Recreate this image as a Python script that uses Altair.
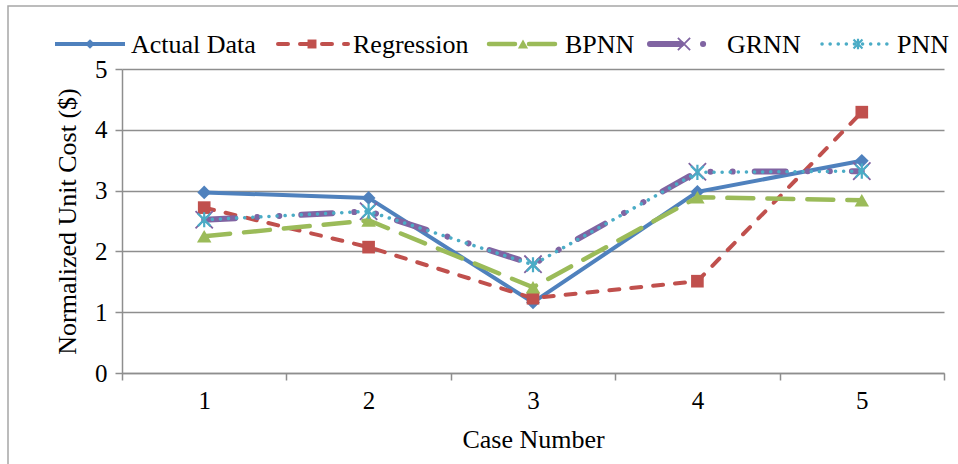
import altair as alt
import pandas as pd

# ---- data ----
cases = [1, 2, 3, 4, 5]
series_names = ["Actual Data", "Regression", "BPNN", "GRNN", "PNN"]
actual = [2.97, 2.88, 1.16, 2.98, 3.49]
regression = [2.72, 2.07, 1.23, 1.51, 4.29]
bpnn = [2.25, 2.51, 1.41, 2.89, 2.84]
grnn = [2.52, 2.66, 1.79, 3.31, 3.32]
pnn = [2.52, 2.66, 1.78, 3.30, 3.32]
y_ticks = [0, 1, 2, 3, 4, 5]

rows = []
for name, vals in zip(series_names, [actual, regression, bpnn, grnn, pnn]):
    for c, v in zip(cases, vals):
        rows.append({"series": name, "case": c, "value": v})
df = pd.DataFrame(rows)

FONT = "Liberation Serif"
GRAY = "#8e8e8e"
W, H = 822, 304

X_PATH = "M-1,-1L1,1M-1,1L1,-1"
AST_PATH = "M-1,-1L1,1M-1,1L1,-1M0,-1.2L0,1.2"

styles = {
    "Actual Data": dict(color="#4F81BD", dash=None, width=4, cap="butt",
                        shape="diamond", size=190, filled=True, sw=0),
    "Regression": dict(color="#C0504D", dash=[10, 12], width=4, cap="round",
                       shape="square", size=160, filled=True, sw=0),
    "BPNN": dict(color="#9BBB59", dash=[26, 14], width=4.5, cap="round",
                 shape="triangle-up", size=210, filled=True, sw=0),
    "GRNN": dict(color="#8064A2", dash=[31, 22, 0.1, 22, 0.1, 22], width=6, cap="round",
                 shape=X_PATH, size=300, filled=False, sw=1.8),
    "PNN": dict(color="#4BACC6", dash=[0.1, 8], width=3.5, cap="round",
                shape=AST_PATH, size=160, filled=False, sw=2.2),
}

# legend positions (pixels relative to plot origin)
legend_pos = {
    "Actual Data": (-67, 3, -32, 9),
    "Regression": (156, 226, 190, 231),
    "BPNN": (367, 437, 401, 443),
    "GRNN": (528, 599, 562, 605),
    "PNN": (700, 771, 736, 775),
}
LEG_Y = -25

x_enc = alt.X(
    "case:O",
    bandPosition=0.5,
    scale=alt.Scale(type="band", paddingInner=0, paddingOuter=0),
    axis=alt.Axis(
        title="Case Number", labelAngle=0, tickBand="extent", tickSize=7,
        labelPadding=8, titlePadding=13, grid=False,
    ),
)
y_enc = alt.Y(
    "value:Q",
    scale=alt.Scale(domain=[0, 5], nice=False),
    axis=alt.Axis(
        title="Normalized Unit Cost ($)", values=y_ticks, tickSize=7,
        labelPadding=8, titlePadding=14, grid=True,
    ),
)

layers = []
for name in series_names:
    s = styles[name]
    base = alt.Chart(df).transform_filter(alt.datum.series == name)
    line_kw = dict(color=s["color"], strokeWidth=s["width"], strokeCap=s["cap"])
    if s["dash"] is not None:
        line_kw["strokeDash"] = s["dash"]
    layers.append(base.mark_line(**line_kw).encode(x=x_enc, y=y_enc))
    pt_kw = dict(shape=s["shape"], size=s["size"], color=s["color"], filled=s["filled"], opacity=1)
    if not s["filled"]:
        pt_kw["strokeWidth"] = s["sw"]
    layers.append(base.mark_point(**pt_kw).encode(x=x_enc, y=y_enc))

one = pd.DataFrame({"k": [0]})
for name in series_names:
    s = styles[name]
    x0, x1, xm, xt = legend_pos[name]
    line_kw = dict(color=s["color"], strokeWidth=s["width"], strokeCap=s["cap"])
    if s["dash"] is not None:
        line_kw["strokeDash"] = s["dash"]
    layers.append(alt.Chart(one).mark_rule(**line_kw).encode(
        x=alt.value(x0), x2=alt.value(x1), y=alt.value(LEG_Y)))
    pt_kw = dict(shape=s["shape"], size=s["size"] * 0.5, color=s["color"], filled=s["filled"], opacity=1)
    if not s["filled"]:
        pt_kw["strokeWidth"] = s["sw"]
    layers.append(alt.Chart(one).mark_point(**pt_kw).encode(
        x=alt.value(xm), y=alt.value(LEG_Y)))
    layers.append(alt.Chart(one).mark_text(
        text=name, align="left", baseline="middle", font=FONT, fontSize=26, color="black"
    ).encode(x=alt.value(xt), y=alt.value(LEG_Y + 1)))

# outer frame
layers.append(alt.Chart(one).mark_rect(
    fill="transparent", stroke="#a6a6a6", strokeWidth=1.5
).encode(x=alt.value(-114), x2=alt.value(900), y=alt.value(-63), y2=alt.value(460)))

chart = alt.layer(*layers).properties(
    width=W, height=H,
    autosize=alt.AutoSizeParams(type="none"),
    padding={"left": 122, "top": 69, "right": 14, "bottom": 91},
).configure_view(stroke="transparent").configure_axis(
    labelFont=FONT, titleFont=FONT, labelFontSize=25, titleFontSize=26,
    labelColor="black", titleColor="black", titleFontWeight="normal",
    domainColor=GRAY, tickColor=GRAY, gridColor=GRAY,
    domainWidth=1.5, tickWidth=1.5, gridWidth=1.5,
)

chart.save("out.html", embed_options={"renderer": "svg", "actions": False})
